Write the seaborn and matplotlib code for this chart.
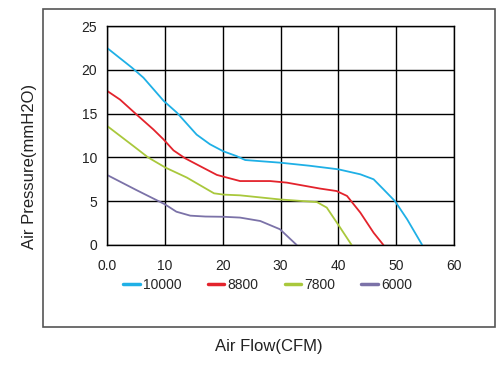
import matplotlib
matplotlib.use('Agg')
import matplotlib.pyplot as plt
import seaborn as sns
import pandas as pd
from matplotlib.patches import Rectangle

# fan curves (flow in CFM, pressure in mmH2O)
SPEEDS = ['10000', '8800', '7800', '6000']
COLORS = ['#1fb0e6', '#e3232c', '#a9c83c', '#7b72a8']

flow_10000 = [0, 4.3, 6.3, 9.8, 12.1, 15.5, 17.8, 20.1, 22.4, 23.9, 29.9, 35, 40.0, 43.8,
              46.1, 47.8, 49.8, 51.9, 54.5]
pres_10000 = [22.5, 20.25, 19.1, 16.45, 15.1, 12.6, 11.5, 10.7, 10.15, 9.7, 9.4, 9.05, 8.64, 8.07,
              7.5, 6.36, 5.0, 2.93, 0]

flow_8800 = [0, 2.25, 5.1, 8.0, 9.75, 11.5, 13.5, 16.1, 19.0, 23.0, 28.2, 31.1, 36.85, 39.7,
             41.5, 43.8, 46.1, 47.8]
pres_8800 = [17.6, 16.6, 14.9, 13.2, 12.07, 10.8, 9.9, 9.0, 8.0, 7.3, 7.3, 7.12, 6.44, 6.16,
             5.6, 3.7, 1.4, 0]

flow_7800 = [0, 4.56, 7.1, 10.1, 13.8, 18.5, 20.2, 23.0, 29.9, 36.3, 38.0, 40.1, 41.3, 42.3]
pres_7800 = [13.6, 11.3, 10.0, 8.84, 7.7, 5.9, 5.75, 5.67, 5.2, 4.9, 4.27, 2.2, 1.0, 0]

flow_6000 = [0, 5, 10, 12, 14.4, 17, 20.2, 23.0, 26.5, 29.9, 32.8]
pres_6000 = [8.0, 6.3, 4.65, 3.8, 3.35, 3.25, 3.22, 3.13, 2.74, 1.8, 0]

X_TICKS = [0, 10, 20, 30, 40, 50, 60]
X_LABELS = ['0.0', '10', '20', '30', '40', '50', '60']
Y_TICKS = [0, 5, 10, 15, 20, 25]

frames = []
for speed, fl, pr in [('10000', flow_10000, pres_10000), ('8800', flow_8800, pres_8800),
                      ('7800', flow_7800, pres_7800), ('6000', flow_6000, pres_6000)]:
    frames.append(pd.DataFrame({'flow': fl, 'pressure': pr, 'speed': speed}))
df = pd.concat(frames, ignore_index=True)

sns.set_style('white')
plt.rcParams['font.family'] = ['Liberation Sans', 'DejaVu Sans']

fig = plt.figure(figsize=(5.04, 3.70), dpi=100)
ax = fig.add_axes([107 / 504, 1 - 245 / 370, 347 / 504, 219 / 370])

sns.lineplot(data=df, x='flow', y='pressure', hue='speed', hue_order=SPEEDS,
             palette=COLORS, linewidth=1.3, ax=ax, estimator=None)

ax.set_xlim(0, 60)
ax.set_ylim(0, 25)
ax.set_xticks(X_TICKS)
ax.set_xticklabels(X_LABELS)
ax.set_yticks(Y_TICKS)
ax.tick_params(axis='x', length=0, pad=10, labelsize=10, colors='#222222')
ax.tick_params(axis='y', length=0, pad=7, labelsize=10, colors='#222222')
ax.grid(True, color='black', linewidth=1.0)
ax.set_axisbelow(True)
for s in ax.spines.values():
    s.set_color('black')
    s.set_linewidth(1.0)

ax.set_xlabel('Air Flow(CFM)', fontsize=12, color='#222222')
ax.set_ylabel('Air Pressure(mmH2O)', fontsize=12, color='#222222', va='center', ha='center')
ax.xaxis.set_label_coords((269 - 107) / 347, -(347 - 245) / 219)
ax.xaxis.label.set_va('center')
ax.yaxis.set_label_coords(-(107 - 30) / 347, (245 - 166.5) / 219)

leg = ax.legend(loc='center', bbox_to_anchor=(267.5 / 504, 1 - 285 / 370),
                bbox_transform=fig.transFigure, ncol=4, frameon=False,
                fontsize=10, handlelength=1.2, handletextpad=0.2, columnspacing=1.9)
for line in leg.get_lines():
    line.set_linewidth(2.5)

# outer frame around plot and legend
fig.patches.append(Rectangle((43 / 504, 1 - 327 / 370), 452 / 504, 318 / 370,
                             transform=fig.transFigure, fill=False,
                             edgecolor='#555555', linewidth=1.2))

fig.savefig('out.png', dpi=100)
